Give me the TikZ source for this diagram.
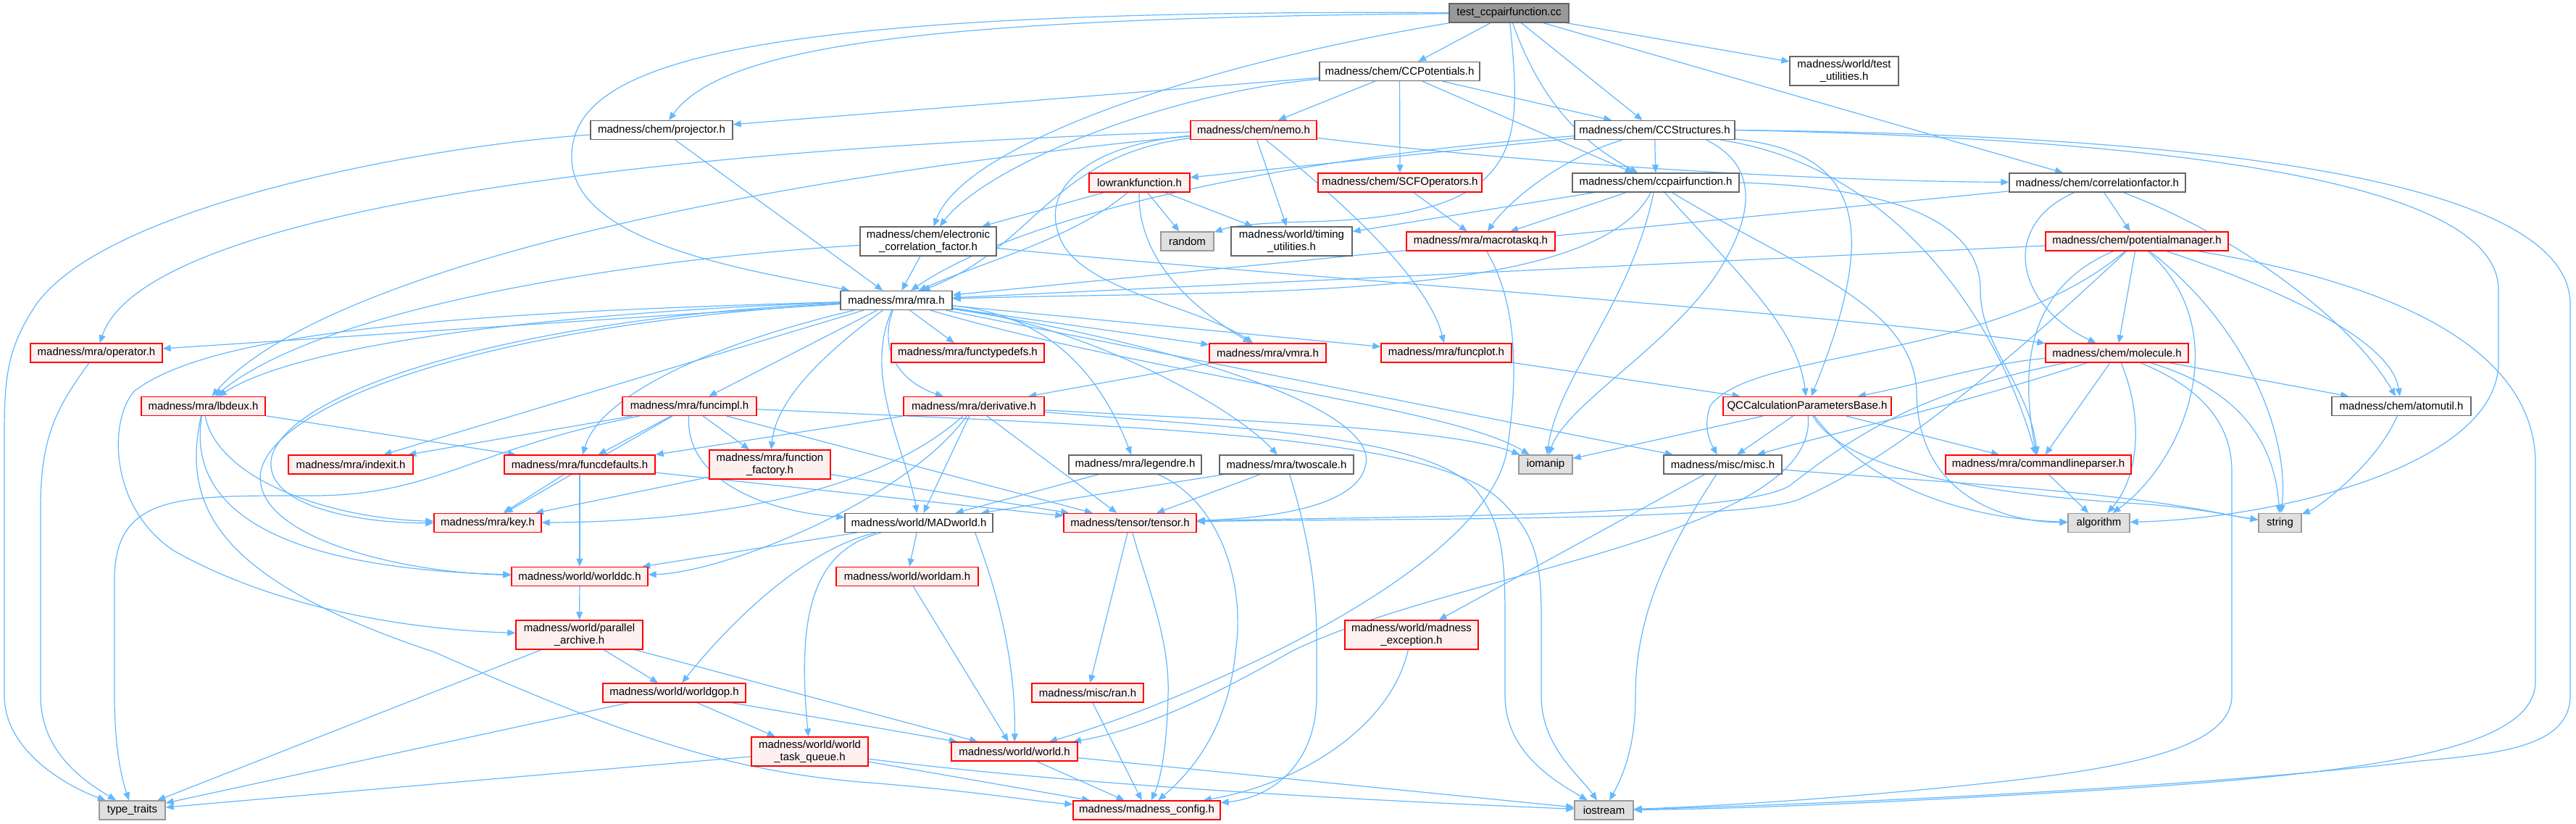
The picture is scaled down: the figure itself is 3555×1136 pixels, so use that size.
\documentclass[tikz,border=0pt]{standalone}
\usepackage{fontspec}
\setmainfont{Liberation Sans}
\usetikzlibrary{arrows.meta}
\pgfdeclarelayer{bg}
\pgfsetlayers{bg,main}
\definecolor{ecol}{HTML}{63B8FF}
\definecolor{redb}{HTML}{FF0000}
\definecolor{redf}{HTML}{FFF0F0}
\definecolor{greyb}{HTML}{999999}
\definecolor{greyf}{HTML}{E0E0E0}
\definecolor{darkb}{HTML}{666666}
\begin{document}
\begin{tikzpicture}[x=1pt,y=-1pt,
  nb/.style={draw=darkb, fill=white, line width=1.3pt, inner sep=0pt, minimum height=26pt, align=center, font=\fontsize{15}{16.5}\selectfont},
  rb/.style={nb, draw=redb, fill=redf},
  gb/.style={nb, draw=greyb, fill=greyf},
  tb/.style={nb, fill=greyb},
  two/.style={minimum height=40pt},
  edg/.style={draw=ecol, line width=1.2pt, arrows={-Triangle[length=11pt,width=9pt]}}]
\useasboundingbox (0,0) rectangle (3555,1136);
% nodes
\node[tb, minimum width=165pt] (root) at (2082.5,18) {test\_ccpairfunction.cc};
\node[nb, minimum width=221pt] (ccpot) at (1931.5,98.5) {madness/chem/CCPotentials.h};
\node[nb, two, minimum width=150pt] (testutil) at (2545,98) {madness/world/test\\\_utilities.h};
\node[rb, minimum width=174pt] (nemo) at (1730,179.5) {madness/chem/nemo.h};
\node[nb, minimum width=221pt] (ccstruct) at (2283.5,179.5) {madness/chem/CCStructures.h};
\node[nb, minimum width=196pt] (projector) at (913,179.5) {madness/chem/projector.h};
\node[rb, minimum width=139pt] (lowrank) at (1572.5,252) {lowrankfunction.h};
\node[rb, minimum width=226pt] (scfops) at (1932,252) {madness/chem/SCFOperators.h};
\node[nb, minimum width=230pt] (ccpair) at (2285,252) {madness/chem/ccpairfunction.h};
\node[nb, minimum width=243pt] (corrfac) at (2894.5,252) {madness/chem/correlationfactor.h};
\node[nb, two, minimum width=188pt] (ecf) at (1281,333) {madness/chem/electronic\\\_correlation\_factor.h};
\node[gb, minimum width=73pt] (random) at (1638.5,333) {random};
\node[nb, two, minimum width=167pt] (timing) at (1782.5,333) {madness/world/timing\\\_utilities.h};
\node[rb, minimum width=205pt] (macrotaskq) at (2043.5,333) {madness/mra/macrotaskq.h};
\node[rb, minimum width=252pt] (potman) at (2949,333) {madness/chem/potentialmanager.h};
\node[nb, minimum width=154pt] (mra) at (1237,414.5) {madness/mra/mra.h};
\node[rb, minimum width=182pt] (operator) at (133,487) {madness/mra/operator.h};
\node[rb, minimum width=211pt] (functypedefs) at (1335.5,487) {madness/mra/functypedefs.h};
\node[rb, minimum width=161pt] (vmra) at (1749.5,487) {madness/mra/vmra.h};
\node[rb, minimum width=180pt] (funcplot) at (1996,487) {madness/mra/funcplot.h};
\node[rb, minimum width=197pt] (molecule) at (2921.5,487) {madness/chem/molecule.h};
\node[rb, minimum width=171pt] (lbdeux) at (280.5,560.5) {madness/mra/lbdeux.h};
\node[rb, minimum width=185pt] (funcimpl) at (951.5,560.5) {madness/mra/funcimpl.h};
\node[rb, minimum width=194pt] (derivative) at (1344,560.5) {madness/mra/derivative.h};
\node[rb, minimum width=232pt] (qccalc) at (2494,560.5) {QCCalculationParametersBase.h};
\node[nb, minimum width=192pt] (atomutil) at (3314,560.5) {madness/chem/atomutil.h};
\node[rb, minimum width=172pt] (indexit) at (484,641) {madness/mra/indexit.h};
\node[rb, minimum width=208pt] (funcdefaults) at (800,641) {madness/mra/funcdefaults.h};
\node[rb, two, minimum width=167pt] (funcfactory) at (1062.5,641) {madness/mra/function\\\_factory.h};
\node[nb, minimum width=183pt] (legendre) at (1566.5,641) {madness/mra/legendre.h};
\node[nb, minimum width=185pt] (twoscale) at (1775.5,641) {madness/mra/twoscale.h};
\node[gb, minimum width=74pt] (iomanip) at (2133,641) {iomanip};
\node[nb, minimum width=163pt] (misc) at (2377.5,641) {madness/misc/misc.h};
\node[rb, minimum width=256pt] (cmdline) at (2813,641) {madness/mra/commandlineparser.h};
\node[rb, minimum width=148pt] (key) at (673,721.5) {madness/mra/key.h};
\node[nb, minimum width=204pt] (madworld) at (1268,721.5) {madness/world/MADworld.h};
\node[rb, minimum width=183pt] (tensor) at (1559.5,721.5) {madness/tensor/tensor.h};
\node[gb, minimum width=85pt] (algorithm) at (2896.5,721.5) {algorithm};
\node[gb, minimum width=59pt] (string) at (3146.5,721.5) {string};
\node[rb, minimum width=188pt] (worlddc) at (800,795.5) {madness/world/worlddc.h};
\node[rb, minimum width=196pt] (worldam) at (1252,795.5) {madness/world/worldam.h};
\node[rb, two, minimum width=175pt] (parchive) at (799.5,876) {madness/world/parallel\\\_archive.h};
\node[rb, two, minimum width=184pt] (mexc) at (1948,876) {madness/world/madness\\\_exception.h};
\node[rb, minimum width=197pt] (worldgop) at (930.5,956) {madness/world/worldgop.h};
\node[rb, minimum width=154pt] (ran) at (1501,956) {madness/misc/ran.h};
\node[rb, two, minimum width=161pt] (wtq) at (1117.5,1037) {madness/world/world\\\_task\_queue.h};
\node[rb, minimum width=174pt] (world) at (1400,1037) {madness/world/world.h};
\node[rb, minimum width=203pt] (config) at (1582.5,1118) {madness/madness\_config.h};
\node[gb, minimum width=91pt] (typetraits) at (182.5,1118) {type\_traits};
\node[gb, minimum width=81pt] (iostream) at (2213.5,1118) {iostream};

\begin{pgfonlayer}{bg}
\fill[white] (0,0) rectangle (3555,1136);
% root
\draw[edg] (root) .. controls (1300,25) and (1000,60) .. (projector);
\draw[edg] (root) .. controls (1000,12) and (785,90) .. (789,220) .. controls (793,340) and (1050,375) .. (mra);
\draw[edg] (root) .. controls (1650,90) and (1330,200) .. (ecf);
\draw[edg] (root) -- (ccpot);
\draw[edg] (root) .. controls (2100,200) and (2110,300) .. (1800,306) .. controls (1730,308) and (1700,312) .. (random);
\draw[edg] (root) .. controls (2130,150) and (2190,200) .. (ccpair);
\draw[edg] (root) -- (ccstruct);
\draw[edg] (root) -- (corrfac);
\draw[edg] (root) -- (testutil);
% CCPotentials
\draw[edg] (ccpot) .. controls (1600,130) and (1360,230) .. (ecf);
\draw[edg] (ccpot) -- (projector);
\draw[edg] (ccpot) -- (nemo);
\draw[edg] (ccpot) -- (scfops);
\draw[edg] (ccpot) -- (ccpair);
\draw[edg] (ccpot) -- (ccstruct);
% nemo
\draw[edg] (nemo) .. controls (900,205) and (200,290) .. (operator);
\draw[edg] (nemo) .. controls (900,260) and (420,400) .. (lbdeux);
\draw[edg] (nemo) .. controls (1450,215) and (1430,340) .. (mra);
\draw[edg] (nemo) .. controls (1500,200) and (1440,260) .. (1460,320) .. controls (1480,400) and (1650,420) .. (vmra);
\draw[edg] (nemo) -- (timing);
\draw[edg] (nemo) .. controls (1830,260) and (1970,380) .. (funcplot);
\draw[edg] (nemo) .. controls (2100,225) and (2500,250) .. (corrfac);
% CCStructures
\draw[edg] (ccstruct) -- (lowrank);
\draw[edg] (ccstruct) .. controls (1800,215) and (1420,290) .. (mra);
\draw[edg] (ccstruct) -- (ccpair);
\draw[edg] (ccstruct) .. controls (2150,220) and (2080,280) .. (macrotaskq);
\draw[edg] ([xshift=-40pt]ccstruct.south east) .. controls (2430,230) and (2420,300) .. (2368,380) .. controls (2300,480) and (2160,560) .. (iomanip);
\draw[edg] (ccstruct) .. controls (2560,210) and (2600,300) .. (qccalc);
\draw[edg] (ccstruct) .. controls (2620,230) and (2760,450) .. (cmdline);
\draw[edg] (ccstruct.east) .. controls (3000,192) and (3448,250) .. (3448,400) -- (3448,500) .. controls (3448,640) and (3150,715) .. (algorithm);
\draw[edg] (ccstruct.east) .. controls (3000,186) and (3547,240) .. (3547,420) -- (3547,960) .. controls (3547,1030) and (3450,1040) .. (3340,1050) .. controls (3000,1090) and (2500,1110) .. (iostream);
% projector
\draw[edg] (projector) -- (mra);
\draw[edg] (projector) .. controls (600,200) and (150,280) .. (50,420) .. controls (10,480) and (6,520) .. (6,600) -- (6,960) .. controls (6,1030) and (80,1080) .. (typetraits);
% lowrank
\draw[edg] (lowrank) -- (ecf);
\draw[edg] (lowrank) -- (random);
\draw[edg] (lowrank) -- (timing);
\draw[edg] (lowrank) .. controls (1570,340) and (1620,410) .. (vmra);
\draw[edg] (lowrank) .. controls (1480,330) and (1360,360) .. (mra);
% SCFOperators
\draw[edg] (scfops) -- (macrotaskq);
% ccpair
\draw[edg] (ccpair) -- (timing);
\draw[edg] (ccpair) -- (macrotaskq);
\draw[edg] (ccpair) .. controls (2200,420) and (1700,400) .. (mra);
\draw[edg] (ccpair) .. controls (2400,380) and (2480,450) .. (qccalc);
\draw[edg] (ccpair) .. controls (2250,420) and (2150,520) .. (iomanip);
\draw[edg] (ccpair.east) .. controls (2600,258) and (2733,300) .. (2733,400) .. controls (2733,480) and (2800,530) .. (cmdline);
\draw[edg] (ccpair) .. controls (2480,370) and (2640,420) .. (2645,540) .. controls (2645,680) and (2760,720) .. (algorithm);
% correlationfactor
\draw[edg] (corrfac) -- (potman);
\draw[edg] (corrfac) -- (mra);
\draw[edg] (corrfac) .. controls (2760,310) and (2780,420) .. (molecule);
\draw[edg] (corrfac) .. controls (3100,330) and (3250,450) .. (atomutil);
% electronic correlation factor
\draw[edg] (ecf) -- (mra);
\draw[edg] (ecf) .. controls (900,355) and (450,420) .. (lbdeux);
\draw[edg] (ecf) .. controls (1750,380) and (2500,430) .. (molecule);
% macrotaskq
\draw[edg] (macrotaskq) .. controls (2095,420) and (2095,520) .. (2080,620) .. controls (2050,800) and (1600,980) .. (world);
% potentialmanager
\draw[edg] (potman) -- (mra);
\draw[edg] (potman) -- (molecule);
\draw[edg] (potman) .. controls (3150,400) and (3300,470) .. (atomutil);
\draw[edg] (potman) .. controls (3100,450) and (3160,600) .. (string);
\draw[edg] (potman) .. controls (3090,460) and (3010,640) .. (algorithm);
\draw[edg] (potman) .. controls (3300,390) and (3499,480) .. (3499,640) -- (3499,940) .. controls (3499,1030) and (3300,1065) .. (2900,1090) .. controls (2600,1108) and (2400,1116) .. (iostream);
\draw[edg] (potman) .. controls (2750,520) and (2600,640) .. (2480,690) .. controls (2400,720) and (1900,715) .. (tensor);
\draw[edg] (potman) .. controls (2750,500) and (2420,480) .. (2360,560) .. controls (2350,590) and (2360,610) .. (misc);
\draw[edg] (potman) .. controls (2790,400) and (2790,520) .. (cmdline);
% mra
\draw[edg] (mra) -- (operator);
\draw[edg] (mra) .. controls (800,430) and (420,470) .. (lbdeux);
\draw[edg] (mra) -- (indexit);
\draw[edg] (mra) .. controls (700,440) and (400,540) .. (375,630) .. controls (360,700) and (500,722) .. (key);
\draw[edg] (mra) .. controls (700,430) and (300,450) .. (185,540) .. controls (150,580) and (150,700) .. (240,760) .. controls (400,850) and (600,870) .. (parchive);
\draw[edg] (mra) .. controls (650,450) and (380,560) .. (360,650) .. controls (345,740) and (550,790) .. (worlddc);
\draw[edg] (mra) .. controls (1000,470) and (830,540) .. (funcdefaults);
\draw[edg] (mra) -- (funcimpl);
\draw[edg] (mra) .. controls (1120,500) and (1070,560) .. (funcfactory);
\draw[edg] (mra) .. controls (1190,520) and (1250,620) .. (madworld);
\draw[edg] (mra) .. controls (1210,490) and (1250,530) .. (derivative);
\draw[edg] (mra) -- (functypedefs);
\draw[edg] (mra) .. controls (1400,430) and (1500,470) .. (legendre);
\draw[edg] (mra) .. controls (1500,450) and (1700,560) .. (twoscale);
\draw[edg] (mra) -- (vmra);
\draw[edg] (mra) -- (funcplot);
\draw[edg] (mra) .. controls (1600,470) and (1900,560) .. (1885,640) .. controls (1875,700) and (1750,715) .. (tensor);
\draw[edg] (mra) -- (misc);
\draw[edg] (mra) .. controls (1600,520) and (2000,560) .. (iomanip);
% vmra, funcplot
\draw[edg] (vmra) -- (derivative);
\draw[edg] (funcplot) -- (qccalc);
% lbdeux
\draw[edg] (lbdeux) -- (funcdefaults);
\draw[edg] (lbdeux) .. controls (300,660) and (450,715) .. (key);
\draw[edg] (lbdeux) .. controls (255,720) and (420,785) .. (worlddc);
\draw[edg] (lbdeux) .. controls (250,700) and (300,800) .. (600,900) .. controls (850,1010) and (1000,1065) .. (1200,1080) .. controls (1350,1092) and (1420,1105) .. (config);
% funcimpl
\draw[edg] (funcimpl) -- (indexit);
\draw[edg] (funcimpl) -- (funcdefaults);
\draw[edg] (funcimpl) -- (key);
\draw[edg] (funcimpl) -- (funcfactory);
\draw[edg] (funcimpl) .. controls (945,660) and (1050,705) .. (madworld);
\draw[edg] (funcimpl) -- (tensor);
\draw[edg] (funcimpl) .. controls (650,620) and (600,684) .. (430,684) .. controls (250,684) and (158,680) .. (158,800) -- (158,960) .. controls (158,1040) and (170,1080) .. (typetraits);
\draw[edg] (funcimpl) .. controls (1600,590) and (2000,600) .. (2080,700) .. controls (2120,740) and (2127,780) .. (2127,850) -- (2127,960) .. controls (2127,1030) and (2180,1070) .. (iostream);
% derivative
\draw[edg] (derivative.south west) -- (funcdefaults.north east);
\draw[edg] (derivative) .. controls (1200,690) and (950,720) .. (key);
\draw[edg] (derivative) .. controls (1250,690) and (1000,790) .. (worlddc);
\draw[edg] (derivative) -- (madworld);
\draw[edg] (derivative) -- (tensor);
\draw[edg] (derivative) .. controls (1700,580) and (2000,590) .. (iomanip);
\draw[edg] (derivative) .. controls (1700,590) and (1980,600) .. (2040,680) .. controls (2070,720) and (2077,760) .. (2077,850) -- (2077,960) .. controls (2077,1040) and (2150,1080) .. (iostream);
% QCCalculationParametersBase
\draw[edg] (qccalc) -- (iomanip);
\draw[edg] (qccalc) -- (misc);
\draw[edg] (qccalc) -- (cmdline);
\draw[edg] (qccalc) .. controls (2560,650) and (2680,715) .. (algorithm);
\draw[edg] (qccalc) .. controls (2540,640) and (2700,680) .. (2950,695) .. controls (3030,700) and (3080,712) .. (string);
\draw[edg] (qccalc) .. controls (2510,740) and (2000,790) .. (1780,900) .. controls (1650,975) and (1560,1010) .. (world);
% misc
\draw[edg] (misc) -- (mexc);
\draw[edg] (misc) .. controls (2300,760) and (2257,850) .. (2257,960) .. controls (2257,1030) and (2240,1070) .. (iostream);
\draw[edg] (misc) .. controls (2600,660) and (2800,670) .. (2950,690) .. controls (3030,700) and (3080,712) .. (string);
% commandlineparser, atomutil
\draw[edg] (cmdline) -- (algorithm);
\draw[edg] (atomutil) .. controls (3280,640) and (3200,700) .. (string);
% molecule
\draw[edg] (molecule) -- (atomutil);
\draw[edg] (molecule) -- (cmdline);
\draw[edg] (molecule) .. controls (2960,580) and (2950,660) .. (algorithm);
\draw[edg] (molecule) .. controls (3100,540) and (3140,620) .. (string);
\draw[edg] (molecule) .. controls (3000,520) and (3080,560) .. (3080,650) -- (3080,960) .. controls (3080,1040) and (2900,1065) .. (2700,1085) .. controls (2500,1105) and (2350,1113) .. (iostream);
\draw[edg] (molecule) .. controls (2750,500) and (2650,530) .. (qccalc);
\draw[edg] (molecule) .. controls (2700,560) and (2520,600) .. (misc);
\draw[edg] (molecule) .. controls (2650,540) and (2560,600) .. (2470,670) .. controls (2400,715) and (1900,712) .. (tensor);
% twoscale, legendre
\draw[edg] (twoscale) -- (madworld);
\draw[edg] (twoscale) -- (tensor);
\draw[edg] (twoscale) .. controls (1800,720) and (1817,800) .. (1817,880) -- (1817,960) .. controls (1817,1050) and (1760,1100) .. (config);
\draw[edg] (legendre) -- (madworld);
\draw[edg] (legendre) .. controls (1680,690) and (1720,800) .. (1705,900) .. controls (1695,1000) and (1650,1060) .. (config);
% tensor
\draw[edg] (tensor) -- (ran);
\draw[edg] (tensor) .. controls (1580,800) and (1615,880) .. (1612,960) .. controls (1610,1040) and (1600,1080) .. (config);
% funcdefaults, function_factory
\draw[edg] (funcdefaults) -- (key);
\draw[edg] (funcdefaults) -- (worlddc);
\draw[edg] (funcdefaults) -- (tensor);
\draw[edg] (funcfactory) -- (key);
\draw[edg] (funcfactory) -- (tensor);
% operator
\draw[edg] (operator) .. controls (80,560) and (56,600) .. (56,700) -- (56,960) .. controls (56,1040) and (120,1080) .. (typetraits);
% MADworld
\draw[edg] (madworld) -- (worlddc);
\draw[edg] (madworld) -- (worldam);
\draw[edg] (madworld) .. controls (1100,760) and (990,880) .. (worldgop);
\draw[edg] (madworld) .. controls (1120,760) and (1100,850) .. (wtq);
\draw[edg] ([xshift=-25pt]madworld.south east) .. controls (1370,800) and (1402,900) .. (world);
% world layer
\draw[edg] (worldam) -- (world);
\draw[edg] (worlddc) -- (parchive);
\draw[edg] (parchive) -- (worldgop);
\draw[edg] (parchive) -- (world);
\draw[edg] (parchive) -- (typetraits);
\draw[edg] (worldgop) -- (wtq);
\draw[edg] (worldgop) -- (world);
\draw[edg] (worldgop) -- (typetraits);
\draw[edg] (wtq) -- (config);
\draw[edg] (wtq) .. controls (1500,1085) and (1900,1105) .. (iostream);
\draw[edg] (wtq) -- (typetraits);
\draw[edg] (world) -- (config);
\draw[edg] (world) -- (iostream);
\draw[edg] (ran) -- (config);
\draw[edg] (mexc) .. controls (1920,1000) and (1800,1080) .. (config);
\end{pgfonlayer}
\end{tikzpicture}
\end{document}
